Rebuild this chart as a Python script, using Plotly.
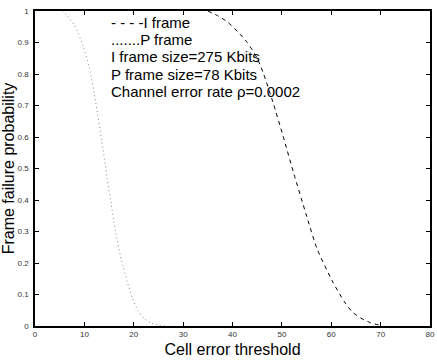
import plotly.graph_objects as go

# I frame (dashed) curve readings
i_x = [35, 37, 39, 41, 43, 45, 46.3, 48.2, 50.3, 52.3, 54.9, 57.1, 60.3, 62.7, 64.3, 66, 68, 70]
i_y = [1.0, 0.985, 0.965, 0.935, 0.90, 0.85, 0.80, 0.71, 0.60, 0.49, 0.355, 0.246, 0.14, 0.076, 0.044, 0.025, 0.01, 0.002]

# P frame (dotted) curve readings
p_x = [5.5, 6.5, 8, 9.5, 11, 12.3, 13.5, 14.6, 15.3, 16.3, 17.5, 18.7, 19.7, 20.8, 22, 23.5, 25, 27]
p_y = [1.0, 0.985, 0.955, 0.90, 0.82, 0.71, 0.59, 0.47, 0.40, 0.30, 0.21, 0.14, 0.09, 0.05, 0.025, 0.01, 0.003, 0.0]

legend_lines = ["- - - -I frame", ".......P frame", "I frame size=275 Kbits",
                "P frame size=78 Kbits", "Channel error rate \u03c1=0.0002"]
legend_y = [0.962, 0.908, 0.854, 0.800, 0.746]

x_ticks = [0, 10, 20, 30, 40, 50, 60, 70, 80]
y_ticks = [0, 0.1, 0.2, 0.3, 0.4, 0.5, 0.6, 0.7, 0.8, 0.9, 1]

FONT = "Arial, Liberation Sans, sans-serif"

fig = go.Figure()
fig.add_trace(go.Scatter(x=i_x, y=i_y, mode="lines",
                         line=dict(color="black", width=1, dash="4px,4px", shape="spline", smoothing=0.6),
                         showlegend=False))
fig.add_trace(go.Scatter(x=p_x, y=p_y, mode="lines",
                         line=dict(color="#888888", width=1, dash="1px,3px", shape="spline", smoothing=0.6),
                         showlegend=False))

for t, yy in zip(legend_lines, legend_y):
    fig.add_annotation(x=15.2, y=yy, xref="x", yref="y", text=t, showarrow=False,
                       xanchor="left", yanchor="middle", borderpad=0,
                       font=dict(family=FONT, size=15, color="black"))

axis_common = dict(showline=True, linecolor="black", linewidth=1.5, mirror="ticks",
                   ticks="inside", ticklen=4, tickcolor="black", showgrid=False, zeroline=False,
                   tickfont=dict(family=FONT, size=8, color="#333333"))

fig.update_xaxes(range=[0, 80], tickvals=x_ticks, ticklabeloverflow="allow",
                 title=dict(text="Cell error threshold", standoff=5,
                            font=dict(family=FONT, size=16, color="black")), **axis_common)
fig.update_yaxes(range=[0, 1], tickvals=y_ticks, ticklabelstandoff=3,
                 title=dict(text="Frame failure probability", standoff=3,
                            font=dict(family=FONT, size=16, color="black")), **axis_common)

fig.update_layout(width=437, height=361, margin=dict(l=35, r=2, t=11, b=35),
                  plot_bgcolor="white", paper_bgcolor="white")

fig.write_html("out.html")
